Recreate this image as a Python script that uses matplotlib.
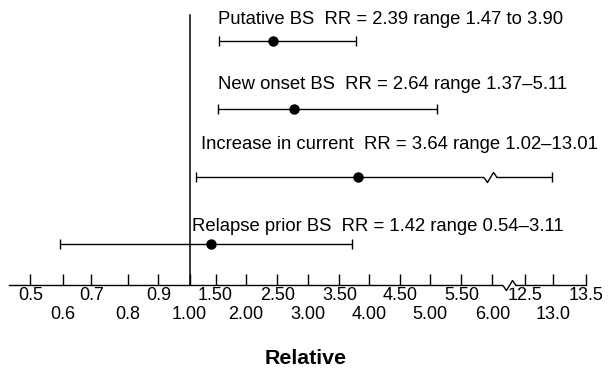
import numpy as np
import matplotlib
matplotlib.use("Agg")
import matplotlib.pyplot as plt
from matplotlib.path import Path

plt.rcParams['font.family'] = ['Liberation Sans', 'DejaVu Sans']

# rows, top to bottom
labels = [
    "Putative BS  RR = 2.39 range 1.47 to 3.90",
    "New onset BS  RR = 2.64 range 1.37\u20135.11",
    "Increase in current  RR = 3.64 range 1.02\u201313.01",
    "Relapse prior BS  RR = 1.42 range 0.54\u20133.11",
]
# where the points and whiskers sit on the drawn axis
rr = np.array([2.43, 2.77, 3.82, 1.41])
ci_lo = np.array([1.55, 1.54, 1.13, 0.59])
ci_hi = np.array([3.78, 5.10, 12.98, 3.71])
broken = [False, False, True, False]   # whisker drawn with a break
rows = np.array([3, 2, 1, 0])

# the hand-drawn, piecewise axis: two staggered rows of labels
top_vals = [0.5, 0.7, 0.9, 1.5, 2.5, 3.5, 4.5, 5.5, 12.5, 13.5]
top_text = ["0.5", "0.7", "0.9", "1.50", "2.50", "3.50", "4.50", "5.50",
            "12.5", "13.5"]
low_vals = [0.6, 0.8, 1.0, 2.0, 3.0, 4.0, 5.0, 6.0, 13.0]
low_text = ["0.6", "0.8", "1.00", "2.00", "3.00", "4.00", "5.00", "6.00",
            "13.0"]

# screen position of each tick (scale definition)
tick_vals = sorted(top_vals + low_vals)
tick_pos = [30.3, 62.9, 91.3, 128.2, 158.4, 189.5, 215.5, 245.8, 277.3,
            308.0, 339.4, 368.9, 400.0, 430.3, 461.4, 492.4, 525.0, 553.4,
            585.6]
slope_lo, slope_hi = 326.0, 64.4


def fwd(v):
    v = np.asarray(v, dtype=float)
    p = np.interp(v, tick_vals, tick_pos)
    p = np.where(v < tick_vals[0], tick_pos[0] + (v - tick_vals[0]) * slope_lo, p)
    p = np.where(v > tick_vals[-1], tick_pos[-1] + (v - tick_vals[-1]) * slope_hi, p)
    return p


def inv(p):
    p = np.asarray(p, dtype=float)
    v = np.interp(p, tick_pos, tick_vals)
    v = np.where(p < tick_pos[0], tick_vals[0] + (p - tick_pos[0]) / slope_lo, v)
    v = np.where(p > tick_pos[-1], tick_vals[-1] + (p - tick_pos[-1]) / slope_hi, v)
    return v


fig = plt.figure(figsize=(6.09, 3.70), dpi=100)
ax = fig.add_axes([0, 1 - 285 / 370, 1, 285 / 370])
ax.set_xscale('function', functions=(fwd, inv))
ax.set_xlim(float(inv(0)), float(inv(609)))
ax.set_ylim(-0.604, 3.612)

# axis
ax.set_xticks(top_vals, top_text)
ax.set_xticks(low_vals, low_text, minor=True)
ax.tick_params(axis='x', which='both', direction='in', length=7.9, width=1,
               labelsize=13)
ax.tick_params(axis='x', which='major', pad=1.2)
ax.tick_params(axis='x', which='minor', pad=14.8)
ax.set_yticks([])
for s in ['top', 'left', 'right']:
    ax.spines[s].set_visible(False)
ax.spines['bottom'].set_linewidth(1)
ax.spines['bottom'].set_bounds(float(inv(8.5)), tick_vals[-1])

# reference line at 1
ax.axvline(1.0, ymin=0, ymax=(285 - 15) / 285, color='black', lw=1.1)

# whiskers and points
ax.errorbar(rr, rows, xerr=[rr - ci_lo, ci_hi - rr], fmt='o', color='black',
            ms=6.5, elinewidth=1, capsize=3.6, capthick=1, zorder=3)

# zig-zag break marks
zig = Path([(-6.5, 0), (-3, -5), (3, 5), (6.5, 0)])
gap_val = float(inv((fwd(6.0) + fwd(12.5)) / 2))
for i, b in enumerate(broken):
    if b:
        ax.plot(5.96, rows[i], marker='_', ms=8.6, mew=4, color='white', zorder=4)
        ax.plot(5.96, rows[i], marker=zig, ms=9.4, mew=1, mfc='none',
                color='black', zorder=5)
y0 = ax.get_ylim()[0]
ax.plot(gap_val, y0, marker='_', ms=8.6, mew=4, color='white', zorder=4,
        clip_on=False)
ax.plot(gap_val, y0, marker=zig, ms=9.4, mew=1, mfc='none', color='black',
        zorder=5, clip_on=False)

# row labels
label_x = [1.54, 1.54, 1.23, 1.04]
label_dy = [21.4, 24, 31.6, 17.5]
for i, lab in enumerate(labels):
    ax.annotate(lab, xy=(label_x[i], rows[i]), xytext=(0, label_dy[i]),
                textcoords='offset pixels', ha='left', va='center', fontsize=13.3)

fig.text(306 / 609, 1 - 358 / 370, "Relative", ha='center', va='center',
         fontsize=15.4, fontweight='bold')

fig.savefig("out.png", dpi=100)
